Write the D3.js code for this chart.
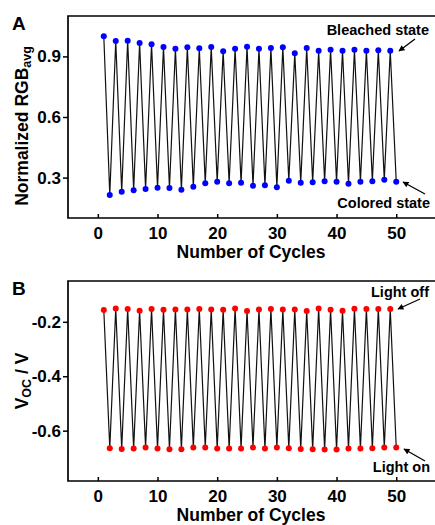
<!DOCTYPE html>
<html>
<head>
<meta charset="utf-8">
<script src="https://cdn.jsdelivr.net/npm/d3@7"></script>
<style>
  body { margin: 0; background: #fff; }
  svg { display: block; font-family: "Liberation Sans", Arial, sans-serif; }
  .tick text { font-weight: bold; font-size: 17px; fill: #000; }
  .domain, .tick line { stroke: #000; }
</style>
</head>
<body>
<svg id="chart" width="435" height="525"></svg>
<script>
// cycle numbers: bleached / light off on odd cycles, colored / light on on even cycles
const oddCycles = [1, 3, 5, 7, 9, 11, 13, 15, 17, 19, 21, 23, 25, 27, 29, 31, 33, 35, 37, 39, 41, 43, 45, 47, 49];
const evenCycles = [2, 4, 6, 8, 10, 12, 14, 16, 18, 20, 22, 24, 26, 28, 30, 32, 34, 36, 38, 40, 42, 44, 46, 48, 50];

// panel A - normalized RGB avg
const bleached = [1.00, 0.976, 0.978, 0.966, 0.960, 0.946, 0.938, 0.945, 0.940, 0.946,
  0.926, 0.938, 0.948, 0.938, 0.941, 0.945, 0.915, 0.941, 0.928, 0.933,
  0.928, 0.933, 0.928, 0.930, 0.928];
const colored = [0.214, 0.230, 0.237, 0.244, 0.250, 0.249, 0.240, 0.255, 0.272, 0.279,
  0.272, 0.274, 0.260, 0.262, 0.252, 0.284, 0.275, 0.277, 0.282, 0.280,
  0.270, 0.280, 0.282, 0.289, 0.280];

// panel B - Voc
const lightOff = [-0.157, -0.151, -0.153, -0.159, -0.153, -0.156, -0.155, -0.155, -0.153, -0.155,
  -0.156, -0.151, -0.160, -0.155, -0.153, -0.155, -0.155, -0.160, -0.151, -0.156,
  -0.159, -0.152, -0.153, -0.153, -0.153];
const lightOn = [-0.665, -0.667, -0.666, -0.662, -0.666, -0.668, -0.668, -0.662, -0.662, -0.666,
  -0.666, -0.666, -0.662, -0.666, -0.662, -0.665, -0.667, -0.668, -0.669, -0.669,
  -0.666, -0.666, -0.665, -0.662, -0.662];

const xTicks = [0, 10, 20, 30, 40, 50];
const yTicksA = [0.3, 0.6, 0.9];
const yTicksB = [-0.6, -0.4, -0.2];

const svg = d3.select("#chart");

const x = d3.scaleLinear().domain([-5, 57]).range([68, 438]);

function merge(topVals, botVals) {
    const pts = [];
    oddCycles.forEach((c, i) => pts.push({ c: c, v: topVals[i] }));
    evenCycles.forEach((c, i) => pts.push({ c: c, v: botVals[i] }));
    return pts.sort((a, b) => a.c - b.c);
}

function drawPanel(opts) {
    const y = d3.scaleLinear().domain(opts.yDomain).range([opts.bottom, opts.top]);
    const g = svg.append("g");

    // frame (right side runs off the picture)
    g.append("path")
        .attr("d", `M${x.range()[1]},${opts.top}H68V${opts.bottom}H${x.range()[1]}`)
        .attr("fill", "none")
        .attr("stroke", "#000")
        .attr("stroke-width", 1.7);

    const xAxis = g.append("g")
        .attr("transform", `translate(0,${opts.bottom})`)
        .call(d3.axisBottom(x).tickValues(xTicks).tickSize(-4).tickPadding(9));
    xAxis.select(".domain").remove();
    xAxis.selectAll(".tick line").attr("stroke-width", 1.5);

    const yAxis = g.append("g")
        .attr("transform", "translate(68,0)")
        .call(d3.axisLeft(y).tickValues(opts.yTicks).tickSize(5).tickPadding(2).tickFormat(d => d.toFixed(1)));
    yAxis.select(".domain").remove();
    yAxis.selectAll(".tick line").attr("stroke-width", 1.5);

    const pts = merge(opts.topVals, opts.botVals);

    g.append("path")
        .datum(pts)
        .attr("fill", "none")
        .attr("stroke", "#111")
        .attr("stroke-width", 1.2)
        .attr("d", d3.line().x(d => x(d.c)).y(d => y(d.v)));

    g.selectAll("circle")
        .data(pts)
        .enter().append("circle")
        .attr("cx", d => x(d.c))
        .attr("cy", d => y(d.v))
        .attr("r", 3)
        .attr("fill", opts.color);

    // panel letter
    g.append("text")
        .attr("x", 12)
        .attr("y", opts.top + 14)
        .style("font-size", "19px")
        .style("font-weight", "bold")
        .text(opts.letter);

    // axis titles
    g.append("text")
        .attr("x", 251)
        .attr("y", opts.bottom + 40)
        .attr("text-anchor", "middle")
        .style("font-size", "17.5px")
        .style("font-weight", "bold")
        .text("Number of Cycles");

    const yl = g.append("text")
        .attr("transform", `translate(28,${opts.yLabelY}) rotate(-90)`)
        .attr("text-anchor", "middle")
        .style("font-size", "17.5px")
        .style("font-weight", "bold");
    yl.append("tspan").text(opts.yLabel[0]);
    yl.append("tspan").attr("dy", opts.subDy).style("font-size", "12.5px").text(opts.yLabel[1]);
    if (opts.yLabel[2]) yl.append("tspan").attr("dy", -opts.subDy).text(opts.yLabel[2]);

    // annotations with arrows
    opts.notes.forEach(n => {
        g.append("text")
            .attr("x", n.tx)
            .attr("y", n.ty)
            .attr("text-anchor", "end")
            .style("font-size", "14.5px")
            .style("font-weight", "bold")
            .text(n.text);
        g.append("line")
            .attr("x1", n.a[0]).attr("y1", n.a[1])
            .attr("x2", n.a[2]).attr("y2", n.a[3])
            .attr("stroke", "#000")
            .attr("stroke-width", 1.3)
            .attr("marker-end", "url(#arrow)");
    });
}

svg.append("defs").append("marker")
    .attr("id", "arrow")
    .attr("viewBox", "0 0 10 10")
    .attr("refX", 9).attr("refY", 5)
    .attr("markerWidth", 7).attr("markerHeight", 6)
    .attr("markerUnits", "userSpaceOnUse")
    .attr("orient", "auto")
    .append("path")
    .attr("d", "M0,0L10,5L0,10z")
    .attr("fill", "#000");

drawPanel({
    letter: "A",
    top: 16, bottom: 218,
    yDomain: [0.1, 1.1],
    yTicks: yTicksA,
    topVals: bleached, botVals: colored,
    color: "#0000ff",
    yLabel: ["Normalized RGB", "avg"],
    yLabelY: 126, subDy: 3,
    notes: [
        { text: "Bleached state", tx: 429, ty: 35, a: [415, 39, 399, 51] },
        { text: "Colored state", tx: 430, ty: 208, a: [425, 194, 403, 182] }
    ]
});

drawPanel({
    letter: "B",
    top: 281, bottom: 481,
    yDomain: [-0.785, -0.05],
    yTicks: yTicksB,
    topVals: lightOff, botVals: lightOn,
    color: "#ff0000",
    yLabel: ["V", "OC", " / V"],
    yLabelY: 381, subDy: 3,
    notes: [
        { text: "Light off", tx: 429, ty: 297, a: [420, 299, 398, 309] },
        { text: "Light on", tx: 430, ty: 472, a: [425, 461, 404, 449] }
    ]
});
</script>
</body>
</html>
